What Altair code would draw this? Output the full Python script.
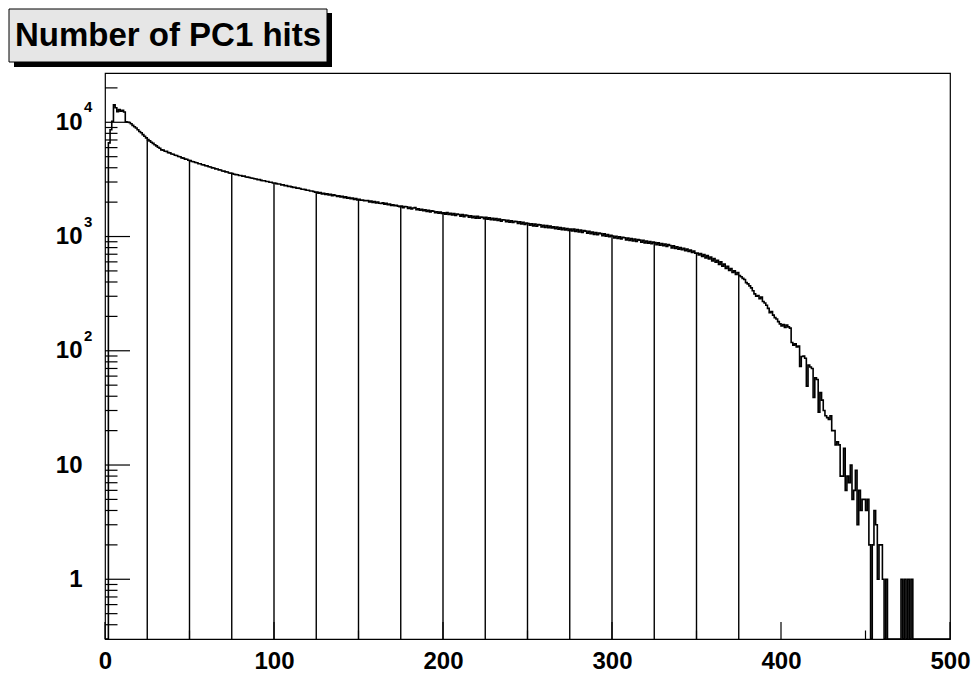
import altair as alt
import pandas as pd

# ---- histogram contents (bins of width 1 from 0 to 500) ----
counts_000 = [0, 0, 6600, 8600, 10200, 14200, 13400, 12400, 12900, 12500, 12700, 12300, 10100,
              10000, 9950, 9700, 9400, 9150, 8900, 8600, 8300, 8100, 7800, 7550, 7300]
counts_025 = [7050, 6880, 6680, 6540, 6350, 6220, 6050, 5920, 5730, 5700, 5580, 5560, 5430,
              5400, 5280, 5250, 5150, 5120, 5020, 4990, 4880, 4860, 4760, 4740, 4650]
counts_050 = [4620, 4530, 4510, 4440, 4420, 4340, 4330, 4250, 4240, 4170, 4150, 4080, 4060,
              3990, 3980, 3910, 3900, 3830, 3820, 3750, 3740, 3680, 3670, 3600, 3590]
counts_075 = [3550, 3510, 3480, 3470, 3420, 3420, 3370, 3380, 3320, 3310, 3290, 3250, 3240,
              3200, 3190, 3150, 3150, 3100, 3080, 3080, 3030, 3030, 2990, 2990, 2940]
counts_100 = [2940, 2905, 2880, 2885, 2830, 2830, 2790, 2795, 2750, 2750, 2720, 2690, 2700,
              2650, 2650, 2630, 2590, 2590, 2575, 2540, 2545, 2500, 2500, 2480, 2440]
counts_125 = [2450, 2400, 2430, 2360, 2395, 2340, 2370, 2310, 2345, 2280, 2315, 2285, 2240,
              2275, 2220, 2250, 2190, 2225, 2165, 2195, 2140, 2170, 2110, 2145, 2095]
counts_150 = [2115, 2080, 2090, 2060, 2055, 2065, 2010, 2045, 1990, 2025, 1970, 2005, 1955,
              1945, 1975, 1920, 1950, 1895, 1925, 1875, 1900, 1860, 1880, 1845, 1825]
counts_175 = [1850, 1790, 1830, 1820, 1760, 1800, 1745, 1775, 1790, 1715, 1745, 1700, 1735,
              1680, 1710, 1655, 1695, 1640, 1680, 1665, 1615, 1650, 1600, 1635, 1590]
counts_200 = [1615, 1570, 1620, 1560, 1595, 1545, 1590, 1530, 1575, 1560, 1510, 1555, 1495,
              1540, 1525, 1475, 1520, 1465, 1505, 1450, 1500, 1445, 1480, 1470, 1430]
counts_225 = [1470, 1420, 1460, 1405, 1445, 1395, 1440, 1380, 1425, 1360, 1400, 1395, 1345,
              1390, 1335, 1375, 1325, 1360, 1350, 1300, 1345, 1290, 1330, 1275, 1310]
counts_250 = [1300, 1255, 1295, 1240, 1285, 1230, 1270, 1265, 1215, 1255, 1200, 1250, 1195,
              1235, 1190, 1215, 1170, 1210, 1160, 1200, 1150, 1185, 1140, 1175, 1130]
counts_275 = [1165, 1120, 1160, 1110, 1150, 1095, 1140, 1085, 1130, 1115, 1070, 1110, 1060,
              1095, 1045, 1085, 1040, 1070, 1060, 1015, 1055, 1005, 1040, 995, 1025]
counts_300 = [1010, 970, 1005, 960, 995, 950, 985, 975, 935, 970, 925, 960, 915,
              950, 905, 940, 930, 890, 925, 880, 915, 875, 905, 865, 895]
counts_325 = [885, 850, 880, 840, 870, 830, 860, 820, 850, 835, 795, 830, 785,
              815, 775, 800, 765, 790, 750, 775, 740, 760, 725, 745, 715]
counts_350 = [715, 690, 710, 670, 695, 650, 680, 635, 660, 610, 640, 595, 620,
              570, 600, 550, 575, 525, 550, 505, 525, 485, 500, 465, 485]
counts_375 = [455, 445, 430, 420, 395, 385, 370, 355, 335, 315, 300, 305, 285,
              295, 270, 262, 250, 235, 215, 220, 205, 195, 190, 180, 172]
counts_400 = [165, 170, 160, 168, 162, 158, 118, 112, 115, 108, 110, 73, 89,
              90, 86, 49, 75, 72, 70, 39, 58, 56, 29, 43, 37]
counts_425 = [30, 27, 26, 25, 27, 20, 20, 15, 16, 15, 8, 8, 14,
              6, 8, 7, 10, 5, 6, 9, 3, 6, 4, 5, 5]
counts_450 = [4, 5, 2, 0, 2, 4, 3, 1, 2, 2, 1, 0, 1,
              0, 0, 0, 0, 0, 0, 0, 0, 1, 0, 1, 0]
counts_475 = [1, 0, 1, 0, 0, 0, 0, 0, 0, 0, 0, 0, 0,
              0, 0, 0, 0, 0, 0, 0, 0, 0, 0, 0, 0]

counts = (counts_000 + counts_025 + counts_050 + counts_075 + counts_100 + counts_125 +
          counts_150 + counts_175 + counts_200 + counts_225 + counts_250 + counts_275 +
          counts_300 + counts_325 + counts_350 + counts_375 + counts_400 + counts_425 +
          counts_450 + counts_475)
assert len(counts) == 500

x_tick_labels = [0, 100, 200, 300, 400, 500]
x_minor = [50, 150, 250, 350, 450]
y_major = [1, 10, 100, 1000, 10000]
y_minor = [0.4, 0.5, 0.6, 0.7, 0.8, 0.9,
           2, 3, 4, 5, 6, 7, 8, 9,
           20, 30, 40, 50, 60, 70, 80, 90,
           200, 300, 400, 500, 600, 700, 800, 900,
           2000, 3000, 4000, 5000, 6000, 7000, 8000, 9000, 20000]
sup_values = [100, 1000, 10000]
sup_text = ["2", "3", "4"]
drop_lines_at = [25 * k for k in range(1, 16)]
title_text = "Number of PC1 hits"

W, H = 845, 566
FLOOR = 0.1  # empty bins are drawn on the lower edge of the log axis

edges = list(range(501))
vals = [c if c > 0 else FLOOR for c in counts]
hist_df = pd.DataFrame({"x": edges, "v": vals + [vals[-1]]})
drop_df = pd.DataFrame({"x": drop_lines_at, "v": [counts[i] for i in drop_lines_at]})

xs = alt.Scale(domain=[0, 500], nice=False, zero=False)
ys = alt.Scale(type="log", domain=[0.3, 27000], nice=False, clamp=True)

font = "Liberation Sans"

hist = alt.Chart(hist_df).mark_line(
    interpolate="step-after", color="black", strokeWidth=1.6, clip=True
).encode(
    x=alt.X("x:Q", scale=xs, axis=alt.Axis(
        values=x_tick_labels, title=None, ticks=False, domain=False, grid=False,
        labelFont=font, labelFontWeight="bold", labelFontSize=24, labelColor="black",
        labelPadding=10, labelFlush=False)),
    y=alt.Y("v:Q", scale=ys, axis=alt.Axis(
        values=y_major, title=None, ticks=False, domain=False, grid=False,
        labelFont=font, labelFontWeight="bold", labelFontSize=24, labelColor="black",
        labelPadding=23, labelExpr="datum.value < 5 ? '1' : '10'", labelFlush=False)),
)

drops = alt.Chart(drop_df).mark_rule(color="black", strokeWidth=1.4).encode(
    x=alt.X("x:Q", scale=xs), y=alt.Y("v:Q", scale=ys), y2=alt.value(H)
)

ymaj = alt.Chart(pd.DataFrame({"t": y_major})).mark_rule(color="black", strokeWidth=1.2).encode(
    y=alt.Y("t:Q", scale=ys), x=alt.value(0), x2=alt.value(25)
)
ymin = alt.Chart(pd.DataFrame({"t": y_minor})).mark_rule(color="black", strokeWidth=1.2).encode(
    y=alt.Y("t:Q", scale=ys), x=alt.value(0), x2=alt.value(12.5)
)
xmaj = alt.Chart(pd.DataFrame({"t": x_tick_labels})).mark_rule(color="black", strokeWidth=1.2).encode(
    x=alt.X("t:Q", scale=xs), y=alt.value(H), y2=alt.value(H - 17)
)
xmin = alt.Chart(pd.DataFrame({"t": x_minor})).mark_rule(color="black", strokeWidth=1.2).encode(
    x=alt.X("t:Q", scale=xs), y=alt.value(H), y2=alt.value(H - 8.5)
)

sups = alt.Chart(pd.DataFrame({"t": sup_values, "s": sup_text})).mark_text(
    font=font, fontWeight="bold", fontSize=15, align="left", baseline="middle", dy=-15, color="black"
).encode(y=alt.Y("t:Q", scale=ys), x=alt.value(-21), text="s:N")

one = pd.DataFrame({"k": [0]})
shadow = alt.Chart(one).mark_rect(color="black").encode(
    x=alt.value(-91), x2=alt.value(227), y=alt.value(-60), y2=alt.value(-6)
)
box = alt.Chart(one).mark_rect(fill="#e6e6e6", stroke="black", strokeWidth=1).encode(
    x=alt.value(-96), x2=alt.value(222), y=alt.value(-64), y2=alt.value(-11)
)
title = alt.Chart(one).mark_text(
    text=title_text, font=font, fontWeight="bold", fontSize=33, align="center",
    baseline="middle", color="black"
).encode(x=alt.value(63), y=alt.value(-37))

chart = alt.layer(
    hist, drops, ymaj, ymin, xmaj, xmin, sups, shadow, box, title
).properties(
    width=W, height=H,
    autosize=alt.AutoSizeParams(type="none"),
    padding={"left": 105, "top": 73, "right": 25, "bottom": 51},
    background="white",
).configure_view(stroke="black", strokeWidth=1.2)

chart.save("out.html", embed_options={"renderer": "svg", "actions": False})
